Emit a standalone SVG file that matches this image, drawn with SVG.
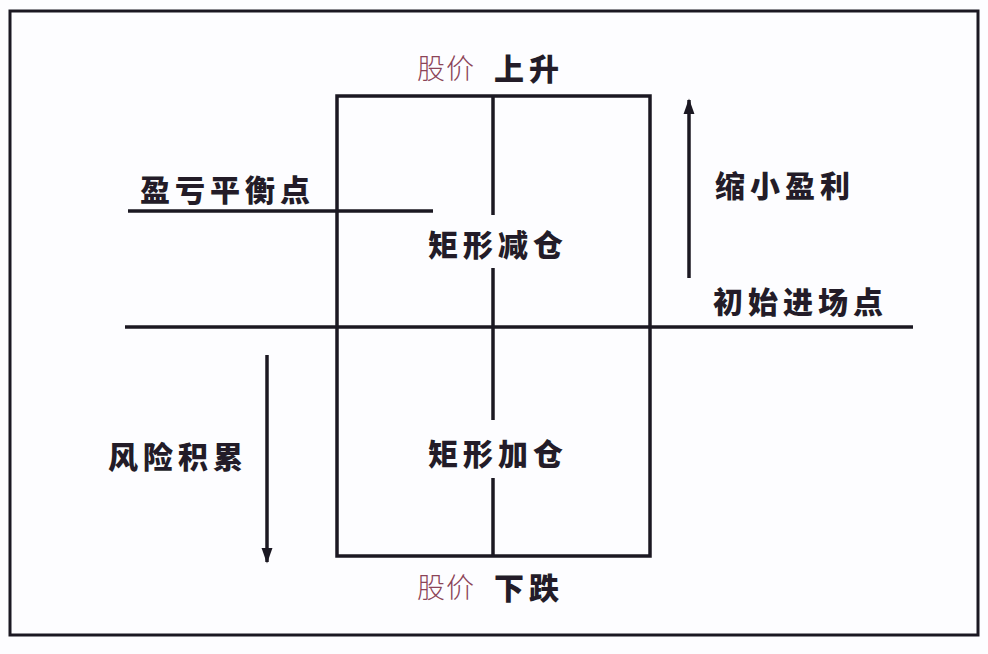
<svg xmlns="http://www.w3.org/2000/svg" width="988" height="654" viewBox="0 0 988 654">
<style>
.ln{stroke:#1b1822;stroke-width:3.5;fill:none}
.t{font-family:"Noto Sans CJK SC","Noto Sans CJK JP",sans-serif;font-weight:900;fill:#231c28;font-size:30px;letter-spacing:5px;dominant-baseline:central}
.p{font-family:"Noto Sans CJK SC","Noto Sans CJK JP",sans-serif;font-weight:300;fill:#8c4458;font-size:28px;letter-spacing:1px;dominant-baseline:central}
</style>
<defs>
<marker id="ah" viewBox="0 0 10 10" refX="9" refY="5" markerWidth="4.5" markerHeight="5" orient="auto" markerUnits="strokeWidth">
<path d="M0,1.5 L10,5 L0,8.5 Z" fill="#1b1822"/>
</marker>
</defs>
<rect width="988" height="654" fill="#fdfdff"/>
<rect x="10" y="11" width="968" height="624" fill="none" stroke="#1b1822" stroke-width="3"/>
<g id="connectors">
<rect class="ln" x="337" y="96" width="313" height="460"/>
<line class="ln" x1="493" y1="96" x2="493" y2="215"/>
<line class="ln" x1="493" y1="268" x2="493" y2="420"/>
<line class="ln" x1="493" y1="478" x2="493" y2="556"/>
<line class="ln" x1="125" y1="327" x2="913" y2="327"/>
<line class="ln" x1="128" y1="211" x2="433" y2="211"/>
<line class="ln" x1="689" y1="278" x2="689" y2="100" marker-end="url(#ah)"/>
<line class="ln" x1="267" y1="355" x2="267" y2="562" marker-end="url(#ah)"/>
</g>
<g id="top-label"><text class="p" x="417" y="67">股价</text><text class="t" x="494" y="67">上升</text></g>
<g id="bottom-label"><text class="p" x="417" y="586">股价</text><text class="t" x="494" y="586">下跌</text></g>
<g id="breakeven"><text class="t" x="140" y="188">盈亏平衡点</text></g>
<g id="reduce"><text class="t" x="428" y="243">矩形减仓</text></g>
<g id="add"><text class="t" x="428" y="452">矩形加仓</text></g>
<g id="profit"><text class="t" x="715" y="184">缩小盈利</text></g>
<g id="entry"><text class="t" x="713" y="300">初始进场点</text></g>
<g id="risk"><text class="t" x="108" y="455">风险积累</text></g>
</svg>
